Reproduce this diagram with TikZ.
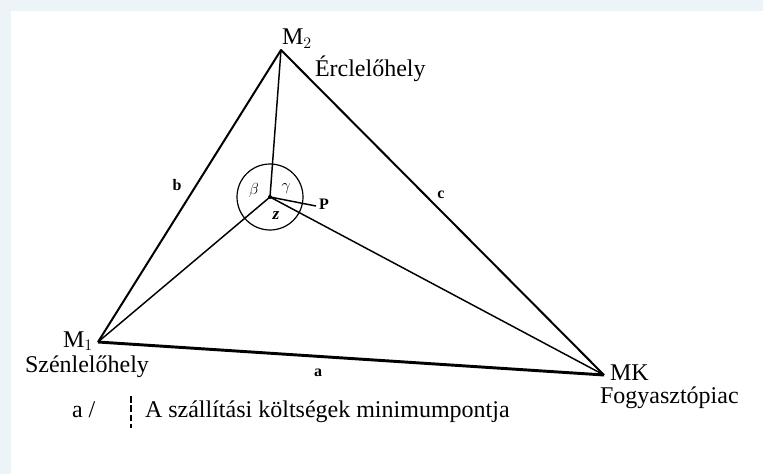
\documentclass[tikz,border=0pt]{standalone}
\usepackage{fontspec}
\setmainfont{Liberation Serif}
\definecolor{pagebg}{HTML}{EDF4F8}
\begin{document}
\begin{tikzpicture}[
        x=0.75pt, y=-0.75pt,
        every node/.style={
            inner sep=0pt, outer sep=0pt
        },
        place/.style={font=\fontsize{18}{20}\selectfont, anchor=base west},
        side/.style={font=\fontsize{12}{14}\selectfont\bfseries},
        angle/.style={font=\fontsize{13}{15}\selectfont},
        edge/.style={line width=1.5pt, line join=round},
        leg/.style={line width=1.1pt}
    ]
        % Page
        \fill[pagebg] (0,0) rectangle (763,474);
        \fill[white] (11,11) rectangle (763,474);

        % Points
        \coordinate (M1) at (98,342);
        \coordinate (M2) at (281,50);
        \coordinate (MK) at (604,375);
        \coordinate (Z) at (270,197);
        \coordinate (Ptip) at (316,206);

        % Triangle
        \draw[edge] (M1) -- (M2) -- (MK);
        \draw[line width=2.2pt] (M1) -- (MK);

        % Legs to the minimum point
        \draw[leg] (Z) -- (M2);
        \draw[leg] (Z) -- (M1);
        \draw[leg] (Z) -- (MK);
        \draw[leg] (Z) -- (Ptip);
        \draw[line width=0.9pt] (Z) circle (33);
        \fill (Z) circle (2);

        % Vertex labels
        \node[place] (m2) at (282,45) {M$_2$};
        \node[place] (erc) at (315,77) {Érclelőhely};
        \node[place] (m1) at (63,347) {M$_1$};
        \node[place] (szen) at (25,372) {Szénlelőhely};
        \node[place] (mk) at (610,380) {MK};
        \node[place] (fogy) at (600,403) {Fogyasztópiac};

        % Side labels
        \node[side] (b) at (177,185) {b};
        \node[side] (c) at (441,195) {c};
        \node[side] (a) at (318,373) {a};

        % Angles
        \node[angle] (beta) at (254,190) {$\beta$};
        \node[angle] (gamma) at (286,189) {$\gamma$};
        \node[angle] (z) at (276,216) {\bfseries\itshape z};
        \node[side, anchor=west] (p) at (319,204) {P};

        % Caption
        \node[place] (fig) at (72,417) {a /};
        \draw[line width=0.8pt, dash pattern=on 5pt off 2pt] (131,396) -- (131,428);
        \node[place] (cap) at (145,417) {A szállítási költségek minimumpontja};
    \end{tikzpicture}
\end{document}
